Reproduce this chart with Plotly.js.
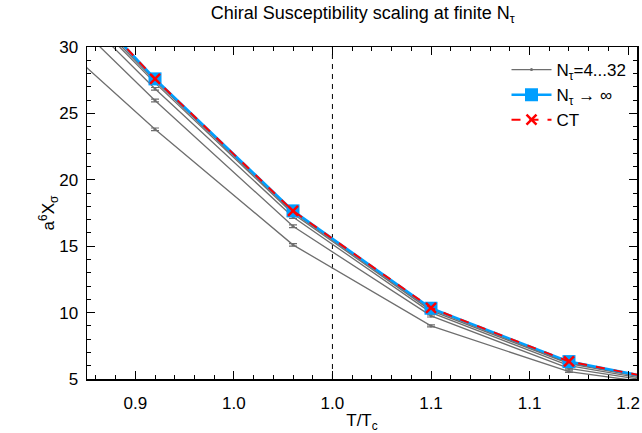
<!DOCTYPE html>
<html>
<head>
<meta charset="utf-8">
<script src="https://cdn.plot.ly/plotly-3.0.1.min.js"></script>
<style>html,body{margin:0;padding:0;background:#fff;}#chart{width:642px;height:433px;}</style>
</head>
<body>
<div id="chart"></div>
<script>
// Temperatures T/Tc
const temps = [0.84, 0.91, 0.98, 1.05, 1.12, 1.19];
// Finite N_tau lattices
const ntauLabels = ["4", "6", "8", "12", "16", "32"];
const chiN4  = [33.2, 23.8, 15.1, 9.0, 5.55, 4.15];
const chiN6  = [36.1, 25.97, 16.5, 9.75, 5.8, 4.2];
const chiN8  = [37.2, 26.85, 17.2, 10.0, 6.0, 4.22];
const chiN12 = [37.8, 27.3, 17.45, 10.15, 6.15, 4.25];
const chiN16 = [38.1, 27.45, 17.55, 10.25, 6.22, 4.27];
const chiN32 = [38.5, 27.55, 17.62, 10.3, 6.28, 4.28];
const finiteErr = [0.1, 0.1, 0.1, 0.08, 0.06, 0.05];
// Continuum extrapolation and CT
const chiCont = [38.7, 27.6, 17.66, 10.33, 6.31, 4.28];
const chiCT   = [38.8, 27.6, 17.66, 10.35, 6.32, 4.3];
// Critical temperature reference
const tcLine = 1.0;
// Axis ticks
const xTickVals = [0.9, 0.95, 1.0, 1.05, 1.1, 1.15];
const xTickText = ["0.9", "1.0", "1.0", "1.1", "1.1", "1.2"];
const yTickVals = [5, 10, 15, 20, 25, 30];

const FONT = "Liberation Sans, Arial, Helvetica, sans-serif";
const gray = "#6e6e6e";
const finiteSeries = [chiN4, chiN6, chiN8, chiN12, chiN16, chiN32];
const traces = finiteSeries.map((ys, i) => ({
  type: "scatter", mode: "lines+markers",
  x: temps, y: ys,
  name: "N<sub>τ</sub>=4...32",
  legendgroup: "finite", showlegend: i === 0,
  line: {color: gray, width: 1.3},
  marker: {color: gray, size: 3, symbol: "circle"},
  error_y: {type: "data", array: finiteErr, color: gray, thickness: 1.2, width: 4},
  hoverinfo: "x+y", text: ntauLabels[i]
}));
traces.push({
  type: "scatter", mode: "lines+markers",
  x: temps, y: chiCont,
  name: "N<sub>τ</sub> → ∞",
  line: {color: "#009fff", width: 2.5},
  marker: {color: "#009fff", size: 13, symbol: "square"}
});
traces.push({
  type: "scatter", mode: "lines+markers",
  x: temps, y: chiCT,
  name: "CT",
  line: {color: "#ff0000", width: 2, dash: "dash"},
  marker: {color: "#ff0000", size: 10, symbol: "x-thin", line: {color: "#ff0000", width: 2.5}}
});

const axisCommon = {
  showline: true, linecolor: "#000", linewidth: 1.5, mirror: "allticks",
  ticks: "inside", ticklen: 8, tickwidth: 1, tickcolor: "#000",
  showgrid: false, zeroline: false,
  tickfont: {family: FONT, size: 17, color: "#000"}
};

const layout = {
  width: 642, height: 433,
  margin: {l: 87, r: 5, t: 47, b: 54},
  paper_bgcolor: "#fff", plot_bgcolor: "#fff",
  font: {family: FONT, size: 17, color: "#000"},
  title: {text: "Chiral Susceptibility scaling at finite N<sub>τ</sub>",
          font: {size: 18, family: FONT},
          x: 0.565, xanchor: "center", y: 0.97, yanchor: "middle"},
  xaxis: Object.assign({}, axisCommon, {
    range: [0.8755, 1.1545],
    tickmode: "array", tickvals: xTickVals, ticktext: xTickText,
    ticklabelstandoff: 8,
    minor: {tickmode: "linear", tick0: 0.9, dtick: 0.01, ticklen: 4, ticks: "inside", tickcolor: "#000", showgrid: false},
    title: {text: "T/T<sub>c</sub>", standoff: 5, font: {size: 17, family: FONT}}
  }),
  yaxis: Object.assign({}, axisCommon, {
    range: [5, 30],
    tickmode: "array", tickvals: yTickVals,
    ticklabelstandoff: 4,
    minor: {tickmode: "linear", tick0: 5, dtick: 1, ticklen: 4, ticks: "inside", tickcolor: "#000", showgrid: false},
    title: {text: "a<sup>6</sup>X<sub>σ</sub>", standoff: 0, font: {size: 17, family: FONT}}
  }),
  shapes: [{
    type: "line", xref: "x", yref: "paper", x0: tcLine, x1: tcLine, y0: 0, y1: 1,
    line: {color: "#000", width: 1, dash: "5px,5px"}, layer: "below"
  }],
  legend: {x: 0.99, xanchor: "right", y: 0.985, yanchor: "top",
           bgcolor: "rgba(255,255,255,0)", borderwidth: 0,
           font: {size: 17, family: FONT}, tracegroupgap: 0, itemwidth: 40},
  showlegend: true
};

Plotly.newPlot("chart", traces, layout, {displayModeBar: false, staticPlot: true});
</script>
</body>
</html>
